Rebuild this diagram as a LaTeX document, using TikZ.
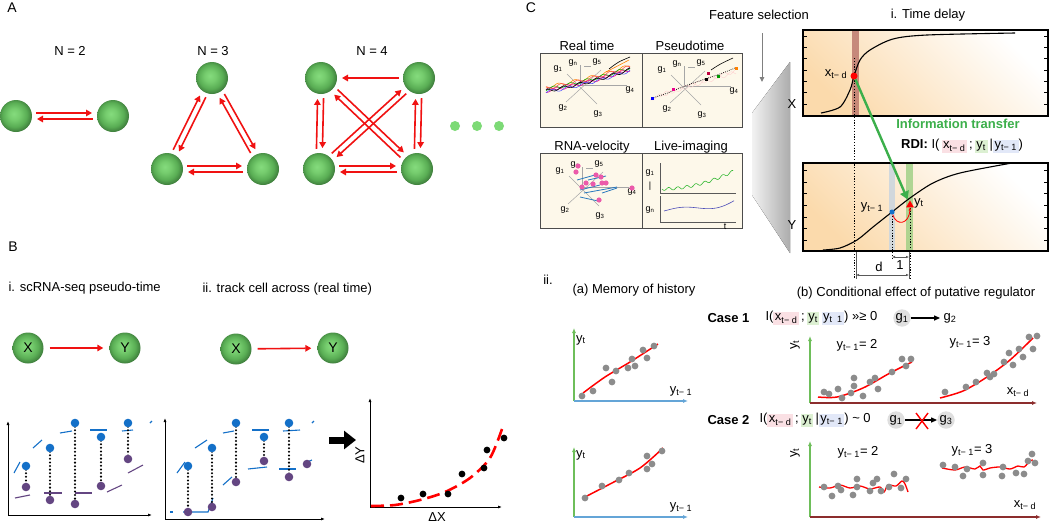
\documentclass[tikz,border=0pt]{standalone}
\usepackage{fontspec}
\setmainfont{Liberation Sans}
\usetikzlibrary{arrows.meta}
\usetikzlibrary{calc}
\usetikzlibrary{shapes.geometric}

\definecolor{cellin}{RGB}{130,216,122}
\definecolor{cellout}{RGB}{70,148,66}
\definecolor{arrred}{RGB}{240,18,18}
\definecolor{dotblue}{RGB}{20,112,200}
\definecolor{dotpurple}{RGB}{100,70,130}
\definecolor{ptgray}{RGB}{140,140,140}
\definecolor{axgreen}{RGB}{110,190,90}
\definecolor{axblue}{RGB}{100,165,215}
\definecolor{axbrown}{RGB}{140,45,45}
\definecolor{cream}{RGB}{253,248,234}
\definecolor{panelorange}{RGB}{251,218,172}
\definecolor{bandbrown}{RGB}{185,115,105}
\definecolor{bandblue}{RGB}{205,214,222}
\definecolor{bandgreen}{RGB}{150,205,125}
\definecolor{infogreen}{RGB}{60,175,75}
\definecolor{pinkbg}{RGB}{250,224,228}
\definecolor{greenbg}{RGB}{220,240,210}
\definecolor{bluebg}{RGB}{226,232,248}
\definecolor{lightdot}{RGB}{125,218,118}
\definecolor{velopink}{RGB}{235,90,170}
\definecolor{veloblue}{RGB}{40,120,190}

\pgfdeclareradialshading{cellball}{\pgfpoint{-3.5bp}{3.5bp}}{rgb(0bp)=(0.52,0.86,0.49); rgb(9bp)=(0.46,0.80,0.43); rgb(19bp)=(0.35,0.68,0.33); rgb(26bp)=(0.25,0.50,0.24); rgb(50bp)=(0.25,0.50,0.24)}

\setlength{\fboxsep}{1.5pt}

% two opposite arrows between two cells
\newcommand{\twoway}[2]{%
  \draw[redarr] ($ ($(#1)!20pt!(#2)$)!3pt!90:(#2) $) -- ($ ($(#2)!21pt!(#1)$)!3pt!-90:(#1) $);
  \draw[redarr] ($ ($(#2)!20pt!(#1)$)!3pt!90:(#1) $) -- ($ ($(#1)!21pt!(#2)$)!3pt!-90:(#2) $);}

% gene axes inside the small boxes
\newcommand{\gstar}[2]{%
  \begin{scope}[shift={#1}]
    \draw[gax] (-13,-11) -- (17,19);
    \draw[gax] (-14,17) -- (21,-15);
    \draw[gax] (0,0) -- (47,0);
    \draw[gax] (0,0) -- (0,-20);
    \draw[gax] (4,-19) -- (11,-19);
    \node[gl] (g1#2) at (-22,-16) {g\textsubscript{1}};
    \node[gl] (gn#2) at (-7,-22) {g\textsubscript{n}};
    \node[gl] (g5#2) at (17,-23) {g\textsubscript{5}};
    \node[gl] (g4#2) at (50,5) {g\textsubscript{4}};
    \node[gl] (g2#2) at (-17,23) {g\textsubscript{2}};
    \node[gl] (g3#2) at (18,29) {g\textsubscript{3}};
  \end{scope}}

\newcommand{\ptcloud}[1]{\foreach \p in {#1} \fill[ptgray] \p circle (3.4);}

\tikzset{
  cell/.style={circle, minimum size=32pt, inner sep=0pt, shade, shading=cellball, font=\fontsize{14}{16}\selectfont},
  moredot/.style={circle, fill=lightdot, minimum size=10pt, inner sep=0pt},
  redarr/.style={draw=arrred, line width=1.6pt, -{Triangle[length=6pt,width=6.5pt]}},
  lbl/.style={font=\fontsize{14}{16}\selectfont},
  ttl/.style={font=\fontsize{13}{15}\selectfont},
  gl/.style={font=\fontsize{9}{10}\selectfont, inner sep=0pt},
  casett/.style={font=\bfseries\fontsize{13}{15}\selectfont, anchor=west},
  blkax/.style={draw=black, line width=0.8pt},
  tip/.style={{Latex[length=4pt,width=3pt]}-{Latex[length=4pt,width=3pt]}},
  dotline/.style={line width=2.3pt, dash pattern=on 0pt off 3.6pt, line cap=round},
  bseg/.style={draw=dotblue, line width=1.1pt},
  pseg/.style={draw=dotpurple, line width=1.1pt},
  fbox/.style={draw=gray!60!black, fill=cream, line width=0.8pt},
  gax/.style={draw=gray!70, line width=0.5pt},
  panel/.style={draw=black, line width=1.1pt, top color=white, bottom color=panelorange, shading angle=-45},
  redfit/.style={draw=red, line width=1.5pt},
  axg/.style={draw=axgreen, line width=1.2pt, -{Latex[length=5pt,width=4pt]}},
  axb/.style={draw=axblue, line width=1.2pt, -{Latex[length=5pt,width=4pt]}},
  axr/.style={draw=axbrown, line width=1.2pt, -{Latex[length=5pt,width=4pt]}},
  gnode/.style={circle, fill=gray!25, inner sep=0.5pt, minimum size=15pt, font=\fontsize{13}{15}\selectfont},
}

\begin{document}
\begin{tikzpicture}[x=1pt, y=-1pt]
\useasboundingbox (0,0) rectangle (1050,523);

%% A
\node[lbl] (labA) at (12,8) {A};
\node[ttl] (n2) at (70,51) {N = 2};
\node[ttl] (n3) at (213,51) {N = 3};
\node[ttl] (n4) at (372,51) {N = 4};
\node[cell] (a1) at (16,116) {};
\node[cell] (a2) at (113,116) {};
\twoway{a1}{a2}
\node[cell] (b1) at (212,78) {};
\node[cell] (b2) at (167,169) {};
\node[cell] (b3) at (263,169) {};
\twoway{b1}{b2}
\twoway{b2}{b3}
\twoway{b3}{b1}
\node[cell] (c1) at (321,78) {};
\node[cell] (c2) at (419,78) {};
\node[cell] (c3) at (319,169) {};
\node[cell] (c4) at (417,169) {};
\draw[redarr] ($(c2)!20pt!(c1)$) -- ($(c1)!21pt!(c2)$);
\twoway{c1}{c3}
\twoway{c2}{c4}
\twoway{c3}{c4}
\twoway{c1}{c4}
\twoway{c2}{c3}
\foreach \i/\xx in {1/455,2/477,3/499} \node[moredot] (more\i) at (\xx,126) {};

%% B
\node[lbl] (labB) at (13,247) {B};
\node[ttl, anchor=west] (bi) at (5,288) {i. scRNA-seq pseudo-time};
\node[ttl, anchor=west] (bii) at (199,289) {ii. track cell across (real time)};
\node[cell, minimum size=31pt] (x1) at (28,348) {X};
\node[cell, minimum size=31pt] (y1) at (125,348) {Y};
\draw[redarr, shorten <=6pt, shorten >=6pt] (x1) -- (y1);
\node[cell, minimum size=31pt] (x2) at (236,349) {X};
\node[cell, minimum size=31pt] (y2) at (333,348) {Y};
\draw[redarr, shorten <=6pt, shorten >=6pt] (x2) -- (y2);

% pseudo-time cells
\draw[blkax, tip] (8,421) -- (8,515) -- (152,515);
\foreach \s in {{(14,473) -- (20,462)}, {(33,448) -- (42,440)}, {(60,433) -- (72,431)}, {(90,430) -- (107,430)}, {(122,431) -- (133,430)}, {(150,423) -- (152,421)}}
  \draw[bseg] \s;
\foreach \s in {{(15,498) -- (30,495)}, {(44,493) -- (62,493)}, {(75,493) -- (92,493)}, {(107,492) -- (122,485)}, {(128,473) -- (143,465)}}
  \draw[pseg] \s;
\foreach \xx/\yb/\yp in {26/466/487, 50/448/500, 75/423/504, 101/437/486, 128/423/459} {
  \draw[dotline] (\xx,\yb) -- (\xx,\yp);
  \fill[dotblue] (\xx,\yb) circle (4.3);
  \fill[dotpurple] (\xx,\yp) circle (4.3);
}

% tracked cells
\draw[blkax, tip] (165,418) -- (165,519) -- (325,519);
\foreach \s in {{(170,512) -- (173,512)}, {(183,512) -- (208,512) -- (213,498)}, {(177,473) -- (185,462)}, {(195,448) -- (207,440)}, {(223,433) -- (234,431)}, {(252,430) -- (269,430)}, {(283,431) -- (300,430)}, {(312,423) -- (314,421)}, {(223,485) -- (232,477)}, {(248,469) -- (267,467)}, {(279,469) -- (296,469)}, {(307,462) -- (312,460)}}
  \draw[bseg] \s;
\foreach \xx/\yb/\yp in {188/466/512, 212/448/507, 236/423/482, 264/437/461, 289/423/477} {
  \draw[dotline] (\xx,\yb) -- (\xx,\yp);
  \fill[dotblue] (\xx,\yb) circle (4.3);
  \fill[dotpurple] (\xx,\yp) circle (4.3);
}
\fill[dotpurple] (307,464) circle (4.3);

\coordinate (bigL) at (329,440);
\coordinate (bigR) at (356,440);
\draw[line width=7pt, -{Triangle[length=12pt,width=18pt]}] (bigL) -- (bigR);

% delta plot
\draw[blkax, tip] (370,398) -- (370,507) -- (502,507);
\node[ttl, rotate=90] (dY) at (360,455) {ΔY};
\node[ttl] (dX) at (437,517) {ΔX};
\draw[red, line width=2.6pt, dash pattern=on 13pt off 6pt] plot[smooth] coordinates {(371,506) (395,505) (420,500) (445,492) (470,478) (490,458) (502,429)};
\foreach \p in {(401,498),(423,494),(448,494),(462,474),(484,468),(487,450),(504,438)}
  \fill[black] \p circle (3.4);

%% C
\node[lbl] (labC) at (531,8) {C};
\node[ttl] (feat) at (759,15) {Feature selection};
\node[ttl] (tdel) at (928,15) {i. Time delay};
\coordinate (featTop) at (762,33);
\coordinate (featEnd) at (762,82);
\draw[gray, line width=1pt, -{Triangle[length=5pt,width=4.5pt]}] (featTop) -- (featEnd);
\fill[left color=gray!10, right color=gray!65] (752,113) -- (790,62) -- (790,253) -- (752,195) -- cycle;

% four data boxes
\node[ttl] (trt) at (587,46) {Real time};
\node[ttl] (tps) at (690,46) {Pseudotime};
\node[ttl] (trv) at (592,147) {RNA-velocity};
\node[ttl] (tli) at (691,147) {Live-imaging};
\draw[fbox] (540,53) rectangle (642,127);
\draw[fbox] (642,53) rectangle (742,127);
\draw[fbox] (540,153) rectangle (642,228);
\draw[fbox] (642,153) rectangle (742,228);

\gstar{(580,85)}{rt}
\foreach \c/\ph/\dy in {orange/0/-3, magenta/50/1, green!70!black/100/-1, blue!70/150/2, violet/200/0, black/250/1, red!70/300/-2}
  \draw[\c, line width=0.55pt] plot[domain=546:630, samples=60, smooth] (\x, {90 + \dy - 0.17*(\x-546) - 0.001*(\x-546)*(\x-546) + 1.6*sin(22*(\x-546) + \ph)});
\draw[black, line width=0.6pt] (609,69) .. controls (618,62) .. (630,57);
\draw[orange, line width=0.6pt] (606,72) .. controls (618,66) .. (629,60);

\gstar{(684,86)}{ps}
\draw[pink!70, line width=0.4pt] plot[domain=650:736, samples=50, smooth] (\x, {99 - 0.33*(\x-650) + 2*sin(28*(\x-650))});
\draw[pink!70, line width=0.4pt] plot[domain=660:736, samples=50, smooth] (\x, {95 - 0.3*(\x-660) + 2*sin(28*(\x-660)+90)});
\draw[black, line width=1pt, dash pattern=on 0pt off 2pt, line cap=round] plot[smooth] coordinates {(652,98) (665,94) (685,86) (705,79) (720,74) (735,68)};
\draw[black, line width=0.6pt] (711,70) .. controls (720,64) .. (733,58);
\fill[blue] (651,97) rectangle (654,100);
\fill[magenta] (672,88) rectangle (675,91);
\fill[black] (705,78) rectangle (708,81);
\fill[purple] (707,72) rectangle (710,75);
\fill[green!60!black] (717,75) rectangle (720,78);
\fill[orange] (735,67) rectangle (738,70);

\gstar{(582,187)}{rv}
\foreach \s in {{(577,180) -- (595,175)}, {(580,190) -- (600,185)}, {(584,193) -- (617,187)}, {(580,197) -- (598,201)}, {(602,193) -- (617,188)}, {(588,180) -- (606,176)}}
  \draw[veloblue, line width=0.8pt] \s;
\foreach \p in {(578,166),(576,172),(596,175),(601,177),(586,183),(593,184),(602,183),(606,183),(582,187),(599,200),(632,188)}
  \fill[velopink] \p circle (2.6);

\draw[gray!70!black, line width=0.5pt] (660,163) -- (660,193) -- (736,193);
\draw[gray!70!black, line width=0.5pt] (660,196) -- (660,222) -- (736,222);
\draw[green!65!black!80, line width=0.6pt] plot[domain=662:733, samples=80, smooth] (\x, {189 - 0.0035*(\x-662)*(\x-662) + 1.4*sin(40*(\x-662))});
\draw[blue!60!black!70, line width=0.6pt] plot[domain=664:734, samples=60, smooth] (\x, {211 - 3*sin(5*(\x-664)) - 0.0022*(\x-664)*(\x-664)});
\node[gl] (lg1) at (650,173) {g\textsubscript{1}};
\node[gl] (lbar) at (650,186) {|};
\node[gl] (lgn) at (650,210) {g\textsubscript{n}};
\node[gl] (lt) at (725,227) {t};

% X panel
\draw[panel] (803,30) rectangle (1048,116);
\foreach \ty in {36,47,58,70,81,92,104} {\draw (803,\ty) -- (807,\ty); \draw (1044,\ty) -- (1048,\ty);}
\fill[bandbrown, opacity=0.8] (852,31) rectangle (859,115);
\draw[black, line width=1.1pt] plot[smooth] coordinates {(821,113) (840,107) (850,90) (854,76) (860,60) (870,50) (893,39) (927,35) (1015,33)};
\node[ttl] (lX) at (792,104) {X};

% Y panel
\draw[panel] (803,163) rectangle (1048,251);
\foreach \ty in {170,182,193,205,217,228,240} {\draw (803,\ty) -- (807,\ty); \draw (1044,\ty) -- (1048,\ty);}
\fill[bandblue, opacity=0.9] (889,164) rectangle (895,250);
\fill[bandgreen, opacity=0.75] (906,164) rectangle (913,250);
\draw[black, line width=1.1pt] plot[smooth] coordinates {(823,250) (840,248) (857,240) (873,227) (892,212) (910,198) (933,183) (960,173) (1012,163)};
\node[ttl] (lY) at (792,225) {Y};

% time marks
\draw[black, line width=0.9pt, dash pattern=on 1.2pt off 1.6pt] (854,58) -- (854,278);
\draw[black, line width=0.9pt, dash pattern=on 1.2pt off 1.6pt] (892,213) -- (892,258);
\draw[black, line width=0.9pt, dash pattern=on 1.2pt off 1.6pt] (910,205) -- (910,278);
\node[circle, fill=red, inner sep=0pt, minimum size=7pt] (xd) at (854,76) {};
\node[circle, fill=dotblue, inner sep=0pt, minimum size=5pt] (yprev) at (892,212) {};
\node[regular polygon, regular polygon sides=3, fill=red, inner sep=0pt, minimum size=9pt] (ycur) at (910,205) {};
\node[ttl] (lxd) at (836,74) {x\textsubscript{t− d}};
\node[ttl] (lyp) at (872,207) {y\textsubscript{t− 1}};
\node[ttl] (lyc) at (919,203) {y\textsubscript{t}};
\draw[red, line width=0.8pt, -{Latex[length=3pt,width=3pt]}] (yprev) .. controls (896,226) and (909,225) .. (ycur.south);
\draw[infogreen, line width=2.4pt, -{Triangle[length=8pt,width=9pt]}, shorten >=3pt] (xd) -- (ycur);

\draw[gray!70!black, line width=0.5pt] (856,252) -- (856,279);
\draw[gray!70!black, line width=0.5pt] (909,252) -- (909,279);
\draw[gray!70!black, line width=0.5pt, {Latex[length=3pt,width=2.5pt]}-{Latex[length=3pt,width=2.5pt]}] (856,275) -- (909,275);
\draw[gray!70!black, line width=0.5pt, {Latex[length=3pt,width=2.5pt]}-{Latex[length=3pt,width=2.5pt]}] (892,257) -- (909,257);
\node[ttl] (ld) at (879,267) {d};
\node[ttl] (l1) at (900,265) {1};

\node[font=\bfseries\fontsize{13}{15}\selectfont, text=infogreen] (info) at (958,124) {Information transfer};
\node[ttl] (rdi) at (962,146) {\textbf{RDI:} I(\,\colorbox{pinkbg}{x\textsubscript{t− d}}\,;\,\colorbox{greenbg}{y\textsubscript{t}}\,|\colorbox{bluebg}{y\textsubscript{t− 1}})};

%% ii
\node[ttl] (lii) at (548,280) {ii.};
\node[ttl] (lmem) at (634,290) {(a) Memory of history};
\node[ttl] (lcond) at (916,293) {(b) Conditional effect of putative regulator};

% memory plots
\draw[axg] (574,401) -- (574,328);
\draw[axb] (574,401) -- (688,401);
\node[ttl, anchor=west, inner sep=1pt] (may) at (575,340) {y\textsubscript{t}};
\node[ttl] (max) at (681,391) {y\textsubscript{t− 1}};
\draw[redfit] plot[smooth] coordinates {(583,393) (605,377) (630,362) (658,344)};
\ptcloud{(582,396),(593,391),(606,368),(612,382),(616,371),(628,368),(632,359),(635,366),(643,350),(647,358),(654,346)}

\draw[axg] (574,517) -- (574,447);
\draw[axb] (574,517) -- (688,517);
\node[ttl, anchor=west, inner sep=1pt] (mby) at (575,455) {y\textsubscript{t}};
\node[ttl] (mbx) at (681,507) {y\textsubscript{t− 1}};
\draw[redfit] plot[smooth] coordinates {(585,497) (610,484) (640,468) (663,448)};
\ptcloud{(585,498),(602,486),(619,480),(629,473),(647,456),(647,469),(652,464),(662,451)}

% case 1
\node[casett] (case1) at (704,318) {Case 1};
\node[ttl, anchor=west] (f1) at (762,318) {I(\colorbox{pinkbg}{x\textsubscript{t− d}}\,;\,\colorbox{greenbg}{y\textsubscript{t}}\,\colorbox{bluebg}{y\textsubscript{t\ \ 1}}) >>≥ 0};
\node[gnode] (g1a) at (902,318) {g\textsubscript{1}};
\node[ttl] (g2a) at (950,318) {g\textsubscript{2}};
\draw[black, line width=1.2pt, -{Triangle[length=6pt,width=5pt]}] (g1a) -- (g2a);

\draw[axg] (810,403) -- (810,336);
\draw[axr] (810,403) -- (1037,403);
\node[ttl, rotate=90] (c1y) at (795,345) {y\textsubscript{t}};
\node[ttl] (c1a) at (857,345) {y\textsubscript{t− 1}= 2};
\node[ttl] (c1b) at (970,342) {y\textsubscript{t− 1}= 3};
\node[ttl] (c1x) at (1018,392) {x\textsubscript{t− d}};
\draw[redfit] plot[smooth] coordinates {(818,397) (837,397) (863,388) (890,373) (912,362)};
\ptcloud{(824,392),(829,394),(838,389),(842,398),(851,393),(854,386),(854,378),(863,396),(870,382),(875,378),(878,389),(892,372),(902,359),(906,366),(911,359)}
\draw[redfit] plot[smooth] coordinates {(940,398) (963,391) (987,377) (1010,360) (1033,338)};
\ptcloud{(945,392),(966,387),(976,382),(987,373),(990,377),(994,374),(1004,362),(1009,353),(1013,365),(1019,349),(1023,357),(1029,337),(1033,349),(1037,336)}

% case 2
\node[casett] (case2) at (704,420) {Case 2};
\node[ttl, anchor=west] (f2) at (756,420) {I(\colorbox{pinkbg}{x\textsubscript{t− d}}\,;\,\colorbox{greenbg}{y\textsubscript{t}}\,|\colorbox{bluebg}{y\textsubscript{t− 1}}) \textasciitilde{} 0};
\node[gnode] (g1b) at (896,420) {g\textsubscript{1}};
\node[gnode] (g3b) at (946,420) {g\textsubscript{3}};
\draw[black, line width=1.2pt, -{Triangle[length=6pt,width=5pt]}] (g1b) -- (g3b);
\coordinate (xmark) at (922,421);
\draw[red, line width=1.4pt] ($(xmark)+(-6,-8)$) -- ($(xmark)+(6,8)$);
\draw[red, line width=1.4pt] ($(xmark)+(-6,8)$) -- ($(xmark)+(6,-8)$);

\draw[axg] (810,517) -- (810,441);
\draw[axr] (810,517) -- (1041,517);
\node[ttl, rotate=90] (c2y) at (795,453) {y\textsubscript{t}};
\node[ttl] (c2a) at (858,452) {y\textsubscript{t− 1}= 2};
\node[ttl] (c2b) at (972,450) {y\textsubscript{t− 1}= 3};
\node[ttl] (c2x) at (1025,505) {x\textsubscript{t− d}};
\draw[redfit, line width=1.3pt] plot[smooth] coordinates {(819,487) (830,488) (840,485) (850,488) (860,486) (870,489) (880,487) (884,492) (888,485) (896,486) (902,481) (905,484) (908,492)};
\ptcloud{(824,487),(832,496),(838,486),(841,490),(853,495),(857,479),(857,487),(870,491),(873,483),(877,479),(881,491),(889,487),(894,474),(901,488),(906,479)}
\draw[redfit, line width=1.3pt] plot[smooth] coordinates {(942,468) (955,470) (965,467) (975,469) (980,466) (983,470) (990,468) (1000,467) (1010,469) (1018,466) (1024,467) (1030,461) (1033,460)};
\ptcloud{(943,465),(955,467),(967,469),(963,476),(983,463),(983,475),(1003,467),(1002,476),(1016,473),(1024,474),(1028,461),(1032,454),(1035,463)}
\end{tikzpicture}
\end{document}
